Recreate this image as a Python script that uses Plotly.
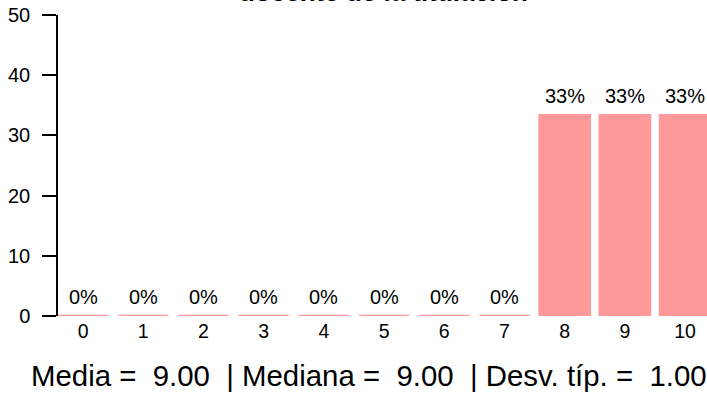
import plotly.graph_objects as go

# Score distribution (percentage of responses per score)
scores = [0, 1, 2, 3, 4, 5, 6, 7, 8, 9, 10]
percent = [0, 0, 0, 0, 0, 0, 0, 0, 100 / 3, 100 / 3, 100 / 3]
pct_labels = ["0%", "0%", "0%", "0%", "0%", "0%", "0%", "0%", "33%", "33%", "33%"]
y_ticks = [0, 10, 20, 30, 40, 50]

title_text = "docente de la titulación"
summary_text = "Media =\u00a0\u00a09.00\u00a0\u00a0| Mediana =\u00a0\u00a09.00\u00a0\u00a0| Desv. típ. =\u00a0\u00a01.00"

FONT = "Liberation Sans, Arial, Helvetica, sans-serif"
BAR = "#FF9999"

fig = go.Figure()
fig.add_trace(go.Bar(
    x=scores,
    y=percent,
    marker=dict(color=BAR, line=dict(color=BAR, width=2.5)),
    hoverinfo="skip",
))

annotations = []
for s, p, lab in zip(scores, percent, pct_labels):
    annotations.append(dict(
        x=s, y=p, xref="x", yref="y", text=lab, showarrow=False,
        yanchor="bottom", yshift=6,
        font=dict(family=FONT, size=20, color="#000000"),
    ))

annotations.append(dict(
    x=0.502, y=1.02, xref="paper", yref="paper", text="<b>" + title_text + "</b>",
    showarrow=False, xanchor="center", yanchor="bottom",
    font=dict(family=FONT, size=26, color="#000000"),
))
annotations.append(dict(
    x=-0.045, y=-0.199, xref="paper", yref="paper", text=summary_text,
    showarrow=False, xanchor="left", yanchor="middle",
    font=dict(family=FONT, size=29.4, color="#000000"),
))

fig.update_layout(
    width=707, height=396,
    margin=dict(l=58, r=0, t=15, b=80),
    plot_bgcolor="white", paper_bgcolor="white",
    bargap=1 - 1 / 1.2,
    showlegend=False,
    annotations=annotations,
    xaxis=dict(
        range=[-0.4167, 10.364],
        tickmode="array", tickvals=scores, ticktext=[str(s) for s in scores],
        showgrid=False, zeroline=False, showline=False, ticks="",
        tickfont=dict(family=FONT, size=19.5, color="#000000"),
        ticklabelstandoff=1,
        fixedrange=True,
    ),
    yaxis=dict(
        range=[0, 50],
        tickmode="array", tickvals=y_ticks,
        showgrid=False, zeroline=False,
        showline=True, linecolor="#000000", linewidth=1.5,
        ticks="outside", ticklen=14, tickwidth=1.5, tickcolor="#000000",
        ticklabelstandoff=8,
        tickfont=dict(family=FONT, size=20, color="#000000"),
        fixedrange=True,
    ),
)

fig.write_html("out.html")
